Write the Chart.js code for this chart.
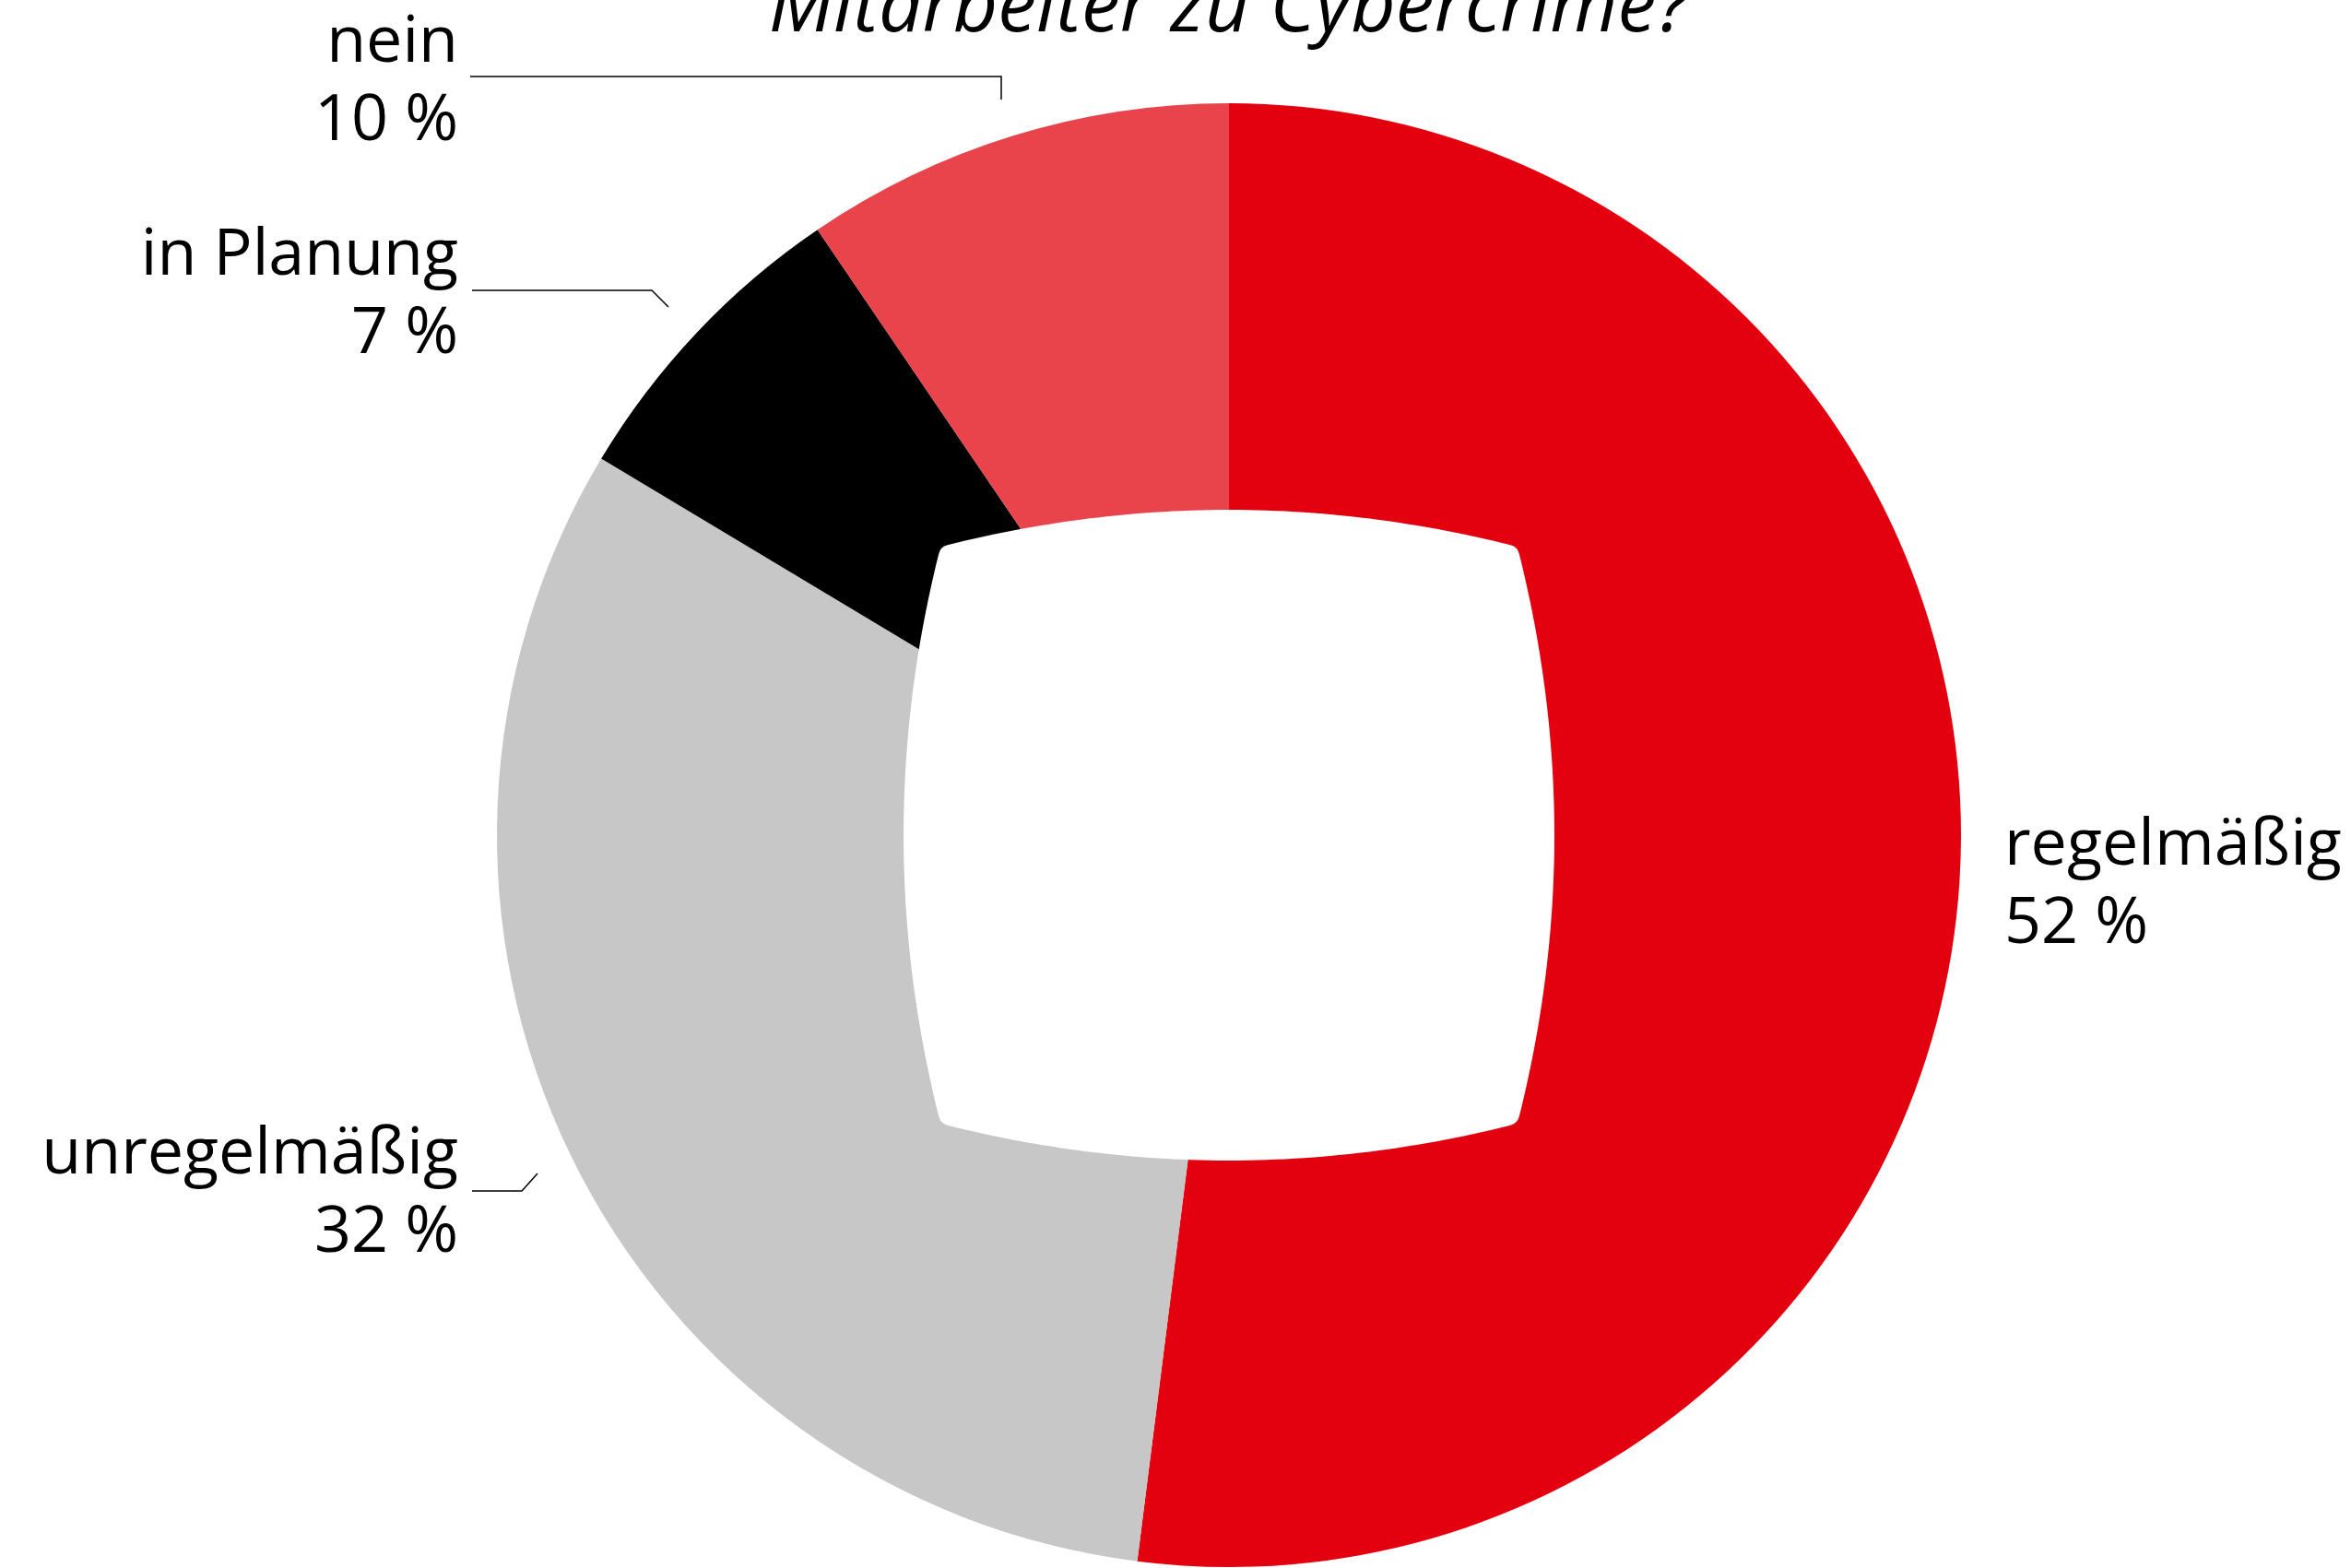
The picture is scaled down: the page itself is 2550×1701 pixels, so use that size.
<!DOCTYPE html>
<html lang="de">
<head>
<meta charset="utf-8">
<title>Mitarbeiter zu Cybercrime?</title>
<script src="https://cdn.jsdelivr.net/npm/chart.js@4.4.1/dist/chart.umd.min.js"></script>
<style>
    html, body { margin: 0; padding: 0; background: #ffffff; }
    #wrap { width: 2550px; height: 1701px; }
</style>
</head>
<body>
<div id="wrap">
    <canvas id="cyberChart" width="2550" height="1701"></canvas>
</div>

<script>
// Daten (Winkelanteile aus der Grafik gelesen, Beschriftung gerundet)
const kategorien = ["regelmäßig", "unregelmäßig", "in Planung", "nein"];
const anteile = [52, 31.6, 6.9, 9.5];
const prozentTexte = ["52 %", "32 %", "7 %", "10 %"];
const farben = ["#e3000f", "#c6c7c6", "#000000", "#e9434b"];
const titel = "Mitarbeiter zu Cybercrime?";

// Position der Beschriftungen (Name oben, Prozent darunter) und Hinweislinien
const beschriftungen = [
    { x: 2174, y: 938, align: "left", linie: null },
    { x: 497, y: 1273, align: "right", linie: [[512, 1292], [566, 1292], [583, 1273]] },
    { x: 497, y: 298, align: "right", linie: [[512, 315], [707, 315], [725, 333]] },
    { x: 497, y: 67, align: "right", linie: [[510, 83], [1086, 83], [1086, 108]] }
];

const schrift = "'Open Sans', 'Noto Sans', sans-serif";

// weisse, leicht gewoelbte Flaeche in der Mitte
const mitteForm = {
    id: "mitteForm",
    afterDatasetsDraw(chart) {
        const ctx = chart.ctx;
        const bogen = chart.getDatasetMeta(0).data[0];
        const cx = bogen.x, cy = bogen.y, R = bogen.outerRadius;
        const a = 0.394 * R;
        const c = 0.495 * R;
        const eps = 0.012;
        const ecken = [[-a, -a], [a, -a], [a, a], [-a, a]];
        const kontroll = [[0, -c], [c, 0], [0, c], [-c, 0]];

        const punkt = (i, t) => {
            const p0 = ecken[i], p2 = ecken[(i + 1) % 4], q = kontroll[i];
            const u = 1 - t;
            return [
                cx + u * u * p0[0] + 2 * u * t * q[0] + t * t * p2[0],
                cy + u * u * p0[1] + 2 * u * t * q[1] + t * t * p2[1]
            ];
        };

        ctx.save();
        ctx.beginPath();
        for (let i = 0; i < 4; i++) {
            for (let s = 0; s <= 60; s++) {
                const t = eps + (1 - 2 * eps) * s / 60;
                const p = punkt(i, t);
                if (i === 0 && s === 0) ctx.moveTo(p[0], p[1]);
                else ctx.lineTo(p[0], p[1]);
            }
            const ecke = ecken[(i + 1) % 4];
            const weiter = punkt((i + 1) % 4, eps);
            ctx.quadraticCurveTo(cx + ecke[0], cy + ecke[1], weiter[0], weiter[1]);
        }
        ctx.closePath();
        ctx.fillStyle = "#ffffff";
        ctx.fill();
        ctx.restore();
    }
};

// Titel und Beschriftungen
const texte = {
    id: "texte",
    afterDraw(chart) {
        const ctx = chart.ctx;
        const bogen = chart.getDatasetMeta(0).data[0];
        ctx.save();
        ctx.fillStyle = "#000000";
        ctx.textBaseline = "alphabetic";

        ctx.font = "italic 84px " + schrift;
        ctx.textAlign = "center";
        ctx.fillText(titel, bogen.x, 34);

        ctx.font = "70px " + schrift;
        beschriftungen.forEach((b, i) => {
            ctx.textAlign = b.align;
            ctx.fillText(kategorien[i], b.x, b.y);
            ctx.fillText(prozentTexte[i], b.x, b.y + 85);

            if (b.linie) {
                ctx.beginPath();
                ctx.moveTo(b.linie[0][0], b.linie[0][1]);
                b.linie.slice(1).forEach(p => ctx.lineTo(p[0], p[1]));
                ctx.lineWidth = 1.5;
                ctx.strokeStyle = "#000000";
                ctx.stroke();
            }
        });
        ctx.restore();
    }
};

let cyberChart;

function zeichneDiagramm() {

    if (cyberChart) {
        cyberChart.destroy();
    }

    cyberChart = new Chart(
        document.getElementById("cyberChart"),
        {
            type: "doughnut",

            data: {
                labels: kategorien,
                datasets: [{
                    data: anteile,
                    backgroundColor: farben,
                    borderWidth: 0,
                    hoverOffset: 0
                }]
            },

            options: {
                responsive: false,
                animation: false,
                cutout: "42%",
                layout: {
                    padding: { left: 539, right: 423, top: 112, bottom: 1 }
                },
                plugins: {
                    legend: { display: false },
                    tooltip: { enabled: false }
                }
            },

            plugins: [mitteForm, texte]
        });
}

document.addEventListener("DOMContentLoaded", function () {
    zeichneDiagramm();
});
</script>
</body>
</html>
